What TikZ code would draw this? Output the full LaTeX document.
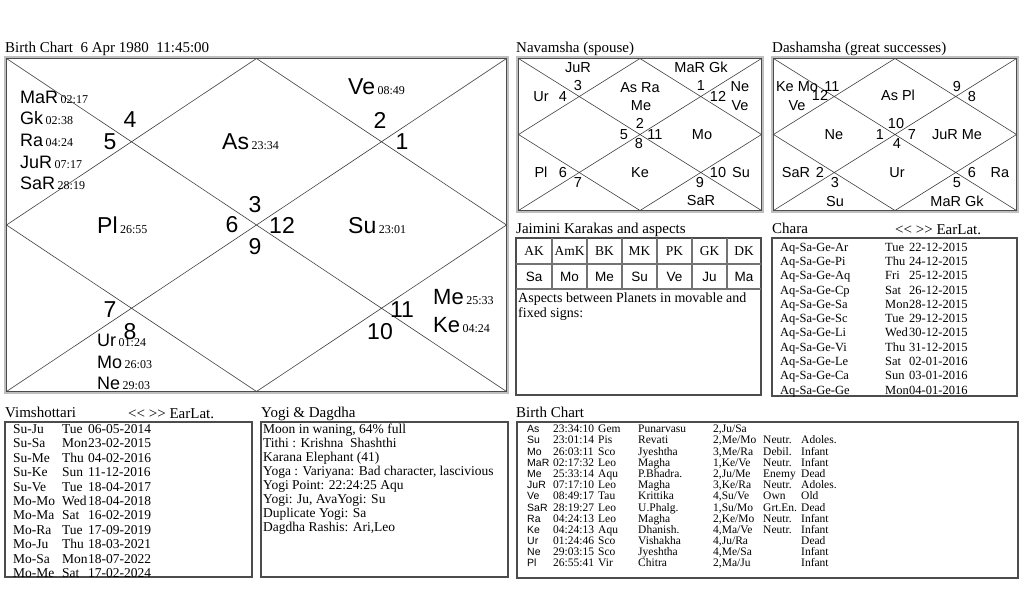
\documentclass[tikz,border=0pt]{standalone}
\usepackage{fontspec}
\setmainfont{Liberation Serif}
\setsansfont{Liberation Sans}
\newcommand\fsz[1]{\fontsize{#1}{#1}\selectfont}
\newcommand\dg[1]{{\rmfamily\fsz{12}\hspace{2.5pt}#1}}
\tikzset{
  ttl/.style={anchor=base west, inner sep=0, font=\fsz{15}},
  bpl/.style={anchor=west, inner sep=0, text depth=0pt, font=\sffamily\fsz{23}},
  bpltwo/.style={anchor=west, inner sep=0, text depth=0pt, font=\sffamily\fsz{22}},
  mpl/.style={anchor=west, inner sep=0, text depth=0pt, font=\sffamily\fsz{18}},
  bnum/.style={inner sep=0, font=\sffamily\fsz{23}},
  snum/.style={inner sep=0, text height=10.4pt, text depth=0pt, font=\sffamily\fsz{14.5}},
  gridl/.style={draw=black!75, line width=0.6},
  boxl/.style={draw=black!70, line width=1.1},
  celll/.style={draw=black!55, line width=1.2},
  vrow/.style={anchor=west, inner sep=0, text height=9pt, text depth=0pt, font=\fsz{13.5}},
  yrow/.style={anchor=west, inner sep=0, text height=9pt, text depth=0pt, font=\fsz{13.5}},
  arow/.style={anchor=west, inner sep=0, text height=9.3pt, text depth=0pt, font=\fsz{14}},
  crow/.style={anchor=west, inner sep=0, text height=8.3pt, text depth=0pt, font=\fsz{12.5}},
  brow/.style={anchor=west, inner sep=0, text height=7.6pt, text depth=0pt, font=\fsz{11.5}},
  bsan/.style={anchor=west, inner sep=0, text height=7.6pt, text depth=0pt, font=\sffamily\fsz{10.5}},
  jh/.style={inner sep=0, text height=9pt, text depth=0pt, font=\fsz{13.5}},
  jv/.style={inner sep=0, text height=9.6pt, text depth=0pt, font=\sffamily\fsz{13.5}},
}
\newcommand\chartframe[4]{%
  \draw[gray!50, line width=2.6] (#1,#2) rectangle (#3,#4);
  \draw[black!70, line width=0.5] (#1+1.3,#2+1.3) rectangle (#3-1.3,#4-1.3);
}
\newcommand\bcrow[8]{%
  \pgfmathsetmacro\yy{429+11.17*#1}%
  \node[bsan] (bp#1) at (527,\yy) {#2};
  \node[brow] (bt#1) at (553,\yy) {#3};
  \node[brow] (bs#1) at (598,\yy) {#4};
  \node[brow] (bn#1) at (638,\yy) {#5};
  \node[brow] (bq#1) at (713,\yy) {#6};
  \node[brow] (bd#1) at (763,\yy) {#7};
  \node[brow] (ba#1) at (801,\yy) {#8};
}
\begin{document}
\begin{tikzpicture}[x=1pt,y=-1pt]
\useasboundingbox (0,0) rectangle (1024,614);
\fill[white] (0,0) rectangle (1024,614);

% ---------- titles ----------
\node[ttl] (t1) at (5,52) {Birth Chart\ \ 6 Apr 1980\ \ 11:45:00};
\node[ttl] (t2) at (516,52) {Navamsha (spouse)};
\node[ttl] (t3) at (772,52) {Dashamsha (great successes)};
\node[ttl] (t4) at (516,233) {Jaimini Karakas and aspects};
\node[ttl] (t5) at (772,233) {Chara};
\node[ttl] (t6) at (895,234) {<\kern0pt< >\kern0pt> EarLat.};
\node[ttl] (t7) at (5,417) {Vimshottari};
\node[ttl] (t8) at (128,418) {<\kern0pt< >\kern0pt> EarLat.};
\node[ttl] (t9) at (261,417) {Yogi \& Dagdha};
\node[ttl] (t10) at (516,417) {Birth Chart};

% ---------- main chart ----------
\chartframe{5}{57}{508}{393}
\coordinate (mA) at (6.5,58.5);
\coordinate (mB) at (506.5,58.5);
\coordinate (mC) at (506.5,391.5);
\coordinate (mD) at (6.5,391.5);
\coordinate (mT) at (256.5,58.5);
\coordinate (mR) at (506.5,225);
\coordinate (mBo) at (256.5,391.5);
\coordinate (mL) at (6.5,225);
\draw[gridl] (mA)--(mC) (mB)--(mD) (mT)--(mR)--(mBo)--(mL)--cycle;

\node[mpl] (pMaR) at (20,97) {MaR\dg{02:17}};
\node[mpl] (pGk) at (20,118) {Gk\dg{02:38}};
\node[mpl] (pRa) at (20,140) {Ra\dg{04:24}};
\node[mpl] (pJuR) at (20,162) {JuR\dg{07:17}};
\node[mpl] (pSaR) at (20,183) {SaR\dg{28:19}};
\node[bpl] (pAs) at (222,142) {As\dg{23:34}};
\node[bpl] (pVe) at (348,87) {Ve\dg{08:49}};
\node[bpl] (pPl) at (97,225) {Pl\dg{26:55}};
\node[bpl] (pSu) at (348,225) {Su\dg{23:01}};
\node[mpl] (pUr) at (97,340) {Ur\dg{01:24}};
\node[mpl] (pMo) at (97,362) {Mo\dg{26:03}};
\node[mpl] (pNe) at (97,383) {Ne\dg{29:03}};
\node[bpltwo] (pMe) at (433,297) {Me\dg{25:33}};
\node[bpltwo] (pKe) at (433,325) {Ke\dg{04:24}};

\node[bnum] (h4) at (130,120) {4};
\node[bnum] (h5) at (110,142) {5};
\node[bnum] (h2) at (380,120) {2};
\node[bnum] (h1) at (402,142) {1};
\node[bnum] (h3) at (255,205) {3};
\node[bnum] (h6) at (232,225) {6};
\node[bnum] (h12) at (282,225) {12};
\node[bnum] (h9) at (255,247) {9};
\node[bnum] (h7) at (110,310) {7};
\node[bnum] (h8) at (130,332) {8};
\node[bnum] (h11) at (402,310) {11};
\node[bnum] (h10) at (380,332) {10};

% ---------- Navamsha ----------
\chartframe{517}{57}{763}{212}
\coordinate (nA) at (518.5,58.5);
\coordinate (nB) at (761.5,58.5);
\coordinate (nC) at (761.5,210.5);
\coordinate (nD) at (518.5,210.5);
\coordinate (nT) at (640,58.5);
\coordinate (nR) at (761.5,134.5);
\coordinate (nBo) at (640,210.5);
\coordinate (nL) at (518.5,134.5);
\draw[gridl] (nA)--(nC) (nB)--(nD) (nT)--(nR)--(nBo)--(nL)--cycle;

\node[snum] (n1) at (578,67) {JuR};
\node[snum] (n2) at (701,67) {MaR Gk};
\node[snum] (n3) at (578,85) {3};
\node[snum] (n4) at (541,96) {Ur};
\node[snum] (n5) at (563,96) {4};
\node[snum] (n6) at (640,87) {As Ra};
\node[snum] (n7) at (641,105) {Me};
\node[snum] (n8) at (701,85) {1};
\node[snum] (n9) at (718,96) {12};
\node[snum] (n10) at (740,86) {Ne};
\node[snum] (n11) at (740,105) {Ve};
\node[snum] (n12) at (640,123) {2};
\node[snum] (n13) at (624,134) {5};
\node[snum] (n14) at (655,134) {11};
\node[snum] (n15) at (639,143) {8};
\node[snum] (n16) at (702,134) {Mo};
\node[snum] (n17) at (541,172) {Pl};
\node[snum] (n18) at (563,172) {6};
\node[snum] (n19) at (578,182) {7};
\node[snum] (n20) at (640,172) {Ke};
\node[snum] (n21) at (718,172) {10};
\node[snum] (n22) at (741,172) {Su};
\node[snum] (n23) at (700,182) {9};
\node[snum] (n24) at (701,200) {SaR};

% ---------- Dashamsha ----------
\chartframe{772}{57}{1018}{212}
\coordinate (dA) at (773.5,58.5);
\coordinate (dB) at (1016.5,58.5);
\coordinate (dC) at (1016.5,210.5);
\coordinate (dD) at (773.5,210.5);
\coordinate (dT) at (895,58.5);
\coordinate (dR) at (1016.5,134.5);
\coordinate (dBo) at (895,210.5);
\coordinate (dL) at (773.5,134.5);
\draw[gridl] (dA)--(dC) (dB)--(dD) (dT)--(dR)--(dBo)--(dL)--cycle;

\node[snum] (d1) at (797,86) {Ke Mo};
\node[snum] (d2) at (832,86) {11};
\node[snum] (d3) at (820,95) {12};
\node[snum] (d4) at (797,105) {Ve};
\node[snum] (d5) at (898,95) {As Pl};
\node[snum] (d6) at (957,86) {9};
\node[snum] (d7) at (972,96) {8};
\node[snum] (d8) at (834,134) {Ne};
\node[snum] (d9) at (896,123) {10};
\node[snum] (d10) at (880,134) {1};
\node[snum] (d11) at (912,134) {7};
\node[snum] (d12) at (897,143) {4};
\node[snum] (d13) at (957,134) {JuR Me};
\node[snum] (d14) at (796,172) {SaR};
\node[snum] (d15) at (820,172) {2};
\node[snum] (d16) at (835,182) {3};
\node[snum] (d17) at (835,201) {Su};
\node[snum] (d18) at (897,172) {Ur};
\node[snum] (d19) at (972,172) {6};
\node[snum] (d20) at (1000,172) {Ra};
\node[snum] (d21) at (957,182) {5};
\node[snum] (d22) at (957,201) {MaR Gk};

% ---------- Jaimini ----------
\draw[boxl] (516,238) rectangle (761,395);
\draw[celll] (516,264) -- (761,264);
\draw[celll] (516,289) -- (761,289);
\foreach \x in {552,587,622,657,692,727} \draw[celll] (\x,238) -- (\x,289);
\foreach \x/\a/\b [count=\k] in {534/AK/Sa,569.5/AmK/Mo,604.5/BK/Me,639.5/MK/Su,674.5/PK/Ve,709.5/GK/Ju,744/DK/Ma} {
  \node[jh] (jh\k) at (\x,251) {\a};
  \node[jv] (jv\k) at (\x,277) {\b};
}
\node[arow] (as1) at (518,298) {Aspects between Planets in movable and};
\node[arow] (as2) at (518,313) {fixed signs:};

% ---------- Chara ----------
\draw[boxl] (772,238) rectangle (1017,396);
\foreach \a/\b/\c [count=\k from 0] in {Ar/Tue/22-12-2015,Pi/Thu/24-12-2015,Aq/Fri/25-12-2015,Cp/Sat/26-12-2015,Sa/Mon/28-12-2015,Sc/Tue/29-12-2015,Li/Wed/30-12-2015,Vi/Thu/31-12-2015,Le/Sat/02-01-2016,Ca/Sun/03-01-2016,Ge/Mon/04-01-2016} {
  \node[crow] (ca\k) at (780,247+14.3*\k) {Aq-Sa-Ge-\a};
  \node[crow] (cb\k) at (885,247+14.3*\k) {\b};
  \node[crow] (cc\k) at (909,247+14.3*\k) {\c};
}

% ---------- Vimshottari ----------
\draw[boxl] (5,422) rectangle (252,577);
\foreach \a/\b/\c [count=\k from 0] in {Su-Ju/Tue/06-05-2014,Su-Sa/Mon/23-02-2015,Su-Me/Thu/04-02-2016,Su-Ke/Sun/11-12-2016,Su-Ve/Tue/18-04-2017,Mo-Mo/Wed/18-04-2018,Mo-Ma/Sat/16-02-2019,Mo-Ra/Tue/17-09-2019,Mo-Ju/Thu/18-03-2021,Mo-Sa/Mon/18-07-2022,Mo-Me/Sat/17-02-2024} {
  \node[vrow] (va\k) at (13,429+14.4*\k) {\a};
  \node[vrow] (vb\k) at (62,429+14.4*\k) {\b};
  \node[vrow] (vc\k) at (88,429+14.4*\k) {\c};
}

% ---------- Yogi & Dagdha ----------
\draw[boxl] (261,422) rectangle (508,577);
\node[yrow] (y1) at (263,429) {Moon in waning, 64\% full};
\node[yrow] (y2) at (263,443) {Tithi : Krishna\ \ Shashthi};
\node[yrow] (y3) at (263,457) {Karana Elephant (41)};
\node[yrow] (y4) at (263,471) {Yoga : Variyana: Bad character, lascivious};
\node[yrow] (y5) at (263,485) {Yogi Point: 22:24:25 Aqu};
\node[yrow] (y6) at (263,499) {Yogi: Ju, AvaYogi: Su};
\node[yrow] (y7) at (263,513) {Duplicate Yogi: Sa};
\node[yrow] (y8) at (263,527) {Dagdha Rashis: Ari,Leo};

% ---------- Birth chart table ----------
\draw[boxl] (517,422) rectangle (1018,578);
\bcrow{0}{As}{23:34:10}{Gem}{Punarvasu}{2,Ju/Sa}{}{}
\bcrow{1}{Su}{23:01:14}{Pis}{Revati}{2,Me/Mo}{Neutr.}{Adoles.}
\bcrow{2}{Mo}{26:03:11}{Sco}{Jyeshtha}{3,Me/Ra}{Debil.}{Infant}
\bcrow{3}{MaR}{02:17:32}{Leo}{Magha}{1,Ke/Ve}{Neutr.}{Infant}
\bcrow{4}{Me}{25:33:14}{Aqu}{P.Bhadra.}{2,Ju/Me}{Enemy}{Dead}
\bcrow{5}{JuR}{07:17:10}{Leo}{Magha}{3,Ke/Ra}{Neutr.}{Adoles.}
\bcrow{6}{Ve}{08:49:17}{Tau}{Krittika}{4,Su/Ve}{Own}{Old}
\bcrow{7}{SaR}{28:19:27}{Leo}{U.Phalg.}{1,Su/Mo}{Grt.En.}{Dead}
\bcrow{8}{Ra}{04:24:13}{Leo}{Magha}{2,Ke/Mo}{Neutr.}{Infant}
\bcrow{9}{Ke}{04:24:13}{Aqu}{Dhanish.}{4,Ma/Ve}{Neutr.}{Infant}
\bcrow{10}{Ur}{01:24:46}{Sco}{Vishakha}{4,Ju/Ra}{}{Dead}
\bcrow{11}{Ne}{29:03:15}{Sco}{Jyeshtha}{4,Me/Sa}{}{Infant}
\bcrow{12}{Pl}{26:55:41}{Vir}{Chitra}{2,Ma/Ju}{}{Infant}
\end{tikzpicture}
\end{document}
